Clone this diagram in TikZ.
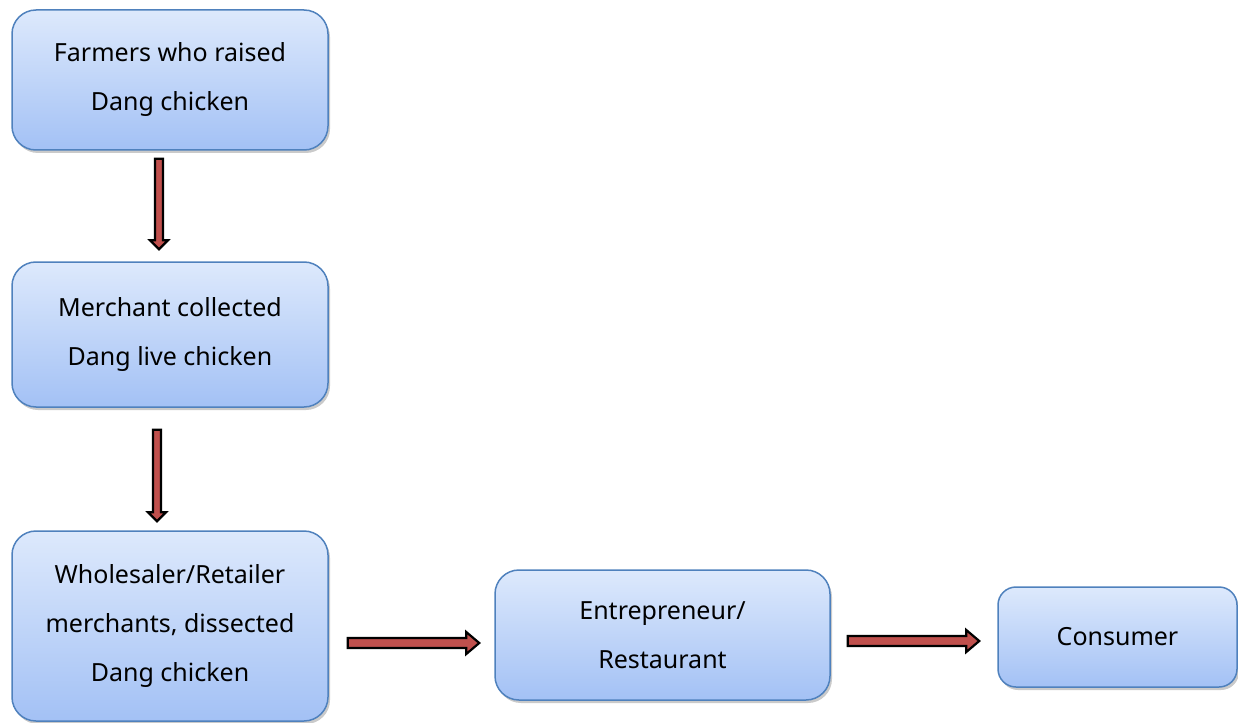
\documentclass[tikz,border=0pt]{standalone}
\usepackage{fontspec}
\setmainfont{Noto Sans}
\usetikzlibrary{calc,shadows}
\definecolor{boxtop}{HTML}{DDE9FC}
\definecolor{boxbot}{HTML}{A3C1F5}
\definecolor{boxline}{HTML}{4F81BD}
\definecolor{arrred}{HTML}{C0504D}
\tikzset{
  flowbox/.style={draw=boxline, line width=1.5pt, rounded corners=24pt,
    top color=boxtop, bottom color=boxbot, align=center,
    font=\fontsize{25}{49}\selectfont, inner sep=0pt,
    drop shadow={shadow xshift=2pt, shadow yshift=-3pt, opacity=0.35, fill=black!60}},
  blockarrow/.style={draw=black, line width=2.2pt, fill=arrred, line join=miter}
}
% vertical block arrow: #1 start (top centre), #2 tip
\newcommand{\vblockarrow}[2]{%
  \draw[blockarrow] ($(#1)+(-4,0)$) -- ($(#2)+(-4,-9)$) -- ($(#2)+(-9,-9)$) -- (#2)
    -- ($(#2)+(9,-9)$) -- ($(#2)+(4,-9)$) -- ($(#1)+(4,0)$) -- cycle;}
% horizontal block arrow: #1 start (left centre), #2 tip
\newcommand{\hblockarrow}[2]{%
  \draw[blockarrow] ($(#1)+(0,-5)$) -- ($(#2)+(-13,-5)$) -- ($(#2)+(-13,-11)$) -- (#2)
    -- ($(#2)+(-13,11)$) -- ($(#2)+(-13,5)$) -- ($(#1)+(0,5)$) -- cycle;}
\begin{document}
\begin{tikzpicture}[x=1pt,y=-1pt]
\useasboundingbox (0,0) rectangle (1238,722);
\node[flowbox, minimum width=316pt, minimum height=140pt] (farm) at (170,80)
  {Farmers who raised\\Dang chicken};
\node[flowbox, minimum width=316pt, minimum height=145pt] (coll) at (170,334.5)
  {Merchant collected\\Dang live chicken};
\node[flowbox, minimum width=316pt, minimum height=190pt] (whole) at (170,626)
  {Wholesaler/Retailer\\merchants, dissected\\Dang chicken};
\node[flowbox, minimum width=335pt, minimum height=130pt] (rest) at (662.5,635)
  {Entrepreneur/\\Restaurant};
\node[flowbox, rounded corners=18pt, minimum width=239pt, minimum height=100pt] (cons) at (1117.5,637)
  {Consumer};
% connector end points
\coordinate (a1s) at ($(farm.south)+(-11,8)$);
\coordinate (a1e) at ($(coll.north)+(-11,-12)$);
\coordinate (a2s) at ($(coll.south)+(-13,22)$);
\coordinate (a2e) at ($(whole.north)+(-13,-9)$);
\coordinate (a3s) at ($(whole.east)+(19,17)$);
\coordinate (a3e) at ($(rest.west)+(-15,8)$);
\coordinate (a4s) at ($(rest.east)+(17,6)$);
\coordinate (a4e) at ($(cons.west)+(-18,4)$);
\vblockarrow{a1s}{a1e}
\vblockarrow{a2s}{a2e}
\hblockarrow{a3s}{a3e}
\hblockarrow{a4s}{a4e}
\end{tikzpicture}
\end{document}
